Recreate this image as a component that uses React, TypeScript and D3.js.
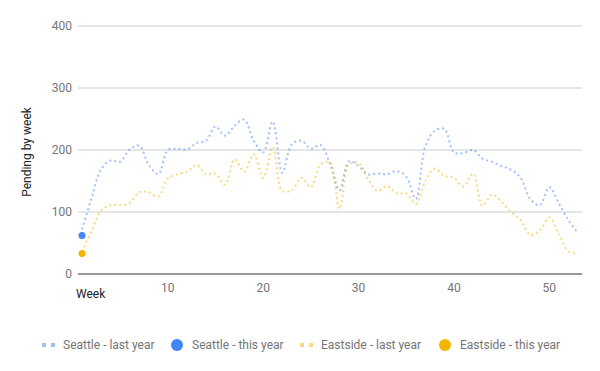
import * as d3 from "d3";
import * as React from "react";

// weekly pending counts
const seattleLastYear = [
  72, 122, 169, 183, 181, 201, 207, 176, 161, 200, 202, 201, 211, 215, 238, 223, 239, 249,
  215, 196, 246, 163, 209, 215, 202, 208, 178, 135, 182, 174, 161, 162, 161, 166, 157, 121,
  206, 231, 234, 196, 195, 200, 186, 181, 174, 168, 155, 121, 111, 140, 114, 87, 66,
];
const eastsideLastYear = [
  36, 69, 102, 111, 111, 115, 132, 132, 125, 154, 161, 165, 176, 161, 162, 144, 185, 165,
  193, 155, 205, 134, 135, 155, 140, 176, 180, 105, 177, 179, 153, 134, 142, 130, 130, 113,
  150, 170, 158, 155, 141, 162, 110, 128, 116, 100, 87, 63, 70, 91, 65, 37, 33,
];
const seattleThisYear = [62];
const eastsideThisYear = [33];

const yTicks = [0, 100, 200, 300, 400];
const xTicks = [10, 20, 30, 40, 50];

const BLUE = "#4285f4";
const ORANGE = "#f4b400";

const legendItems = [
  { label: "Seattle - last year", color: BLUE, kind: "line", x: 42 },
  { label: "Seattle - this year", color: BLUE, kind: "dot", x: 171 },
  { label: "Eastside - last year", color: ORANGE, kind: "line", x: 300 },
  { label: "Eastside - this year", color: ORANGE, kind: "dot", x: 439 },
];

export default function App() {
  React.useEffect(() => {
    document.body.style.margin = "0";
  }, []);

  const width = 600;
  const height = 371;
  const left = 78;
  const right = 582;
  const top = 26;
  const bottom = 274;

  const x = d3.scaleLinear().domain([0.58, 53.43]).range([left, right]);
  const y = d3.scaleLinear().domain([0, 400]).range([bottom, top]);

  const line = d3
    .line<number>()
    .x((d, i) => x(i + 1))
    .y((d) => y(d))
    .curve(d3.curveCatmullRom.alpha(0.5));

  const font = "Roboto, sans-serif";

  return (
    <svg width={width} height={height} style={{ display: "block" }} fontFamily={font}>
      <rect width={width} height={height} fill="#fff" />
      {yTicks.map((t) => (
        <g key={t}>
          {t > 0 && (
            <line x1={left} x2={right} y1={y(t)} y2={y(t)} stroke="#cccccc" strokeWidth={1} />
          )}
          <text x={72} y={y(t)} dy="0.35em" textAnchor="end" fontSize={12} fill="#757575">
            {t}
          </text>
        </g>
      ))}
      {xTicks.map((t) => (
        <text key={t} x={x(t)} y={292} textAnchor="middle" fontSize={12} fill="#757575">
          {t}
        </text>
      ))}
      <text x={76} y={298} fontSize={12} fill="#222">
        Week
      </text>
      <text
        transform={`translate(31,${(top + bottom) / 2 + 2}) rotate(-90)`}
        textAnchor="middle"
        fontSize={12}
        fill="#222"
      >
        Pending by week
      </text>

      <path
        d={line(seattleLastYear) || ""}
        fill="none"
        stroke={BLUE}
        strokeOpacity={0.5}
        strokeWidth={2}
        strokeDasharray="2,3"
      />
      <path
        d={line(eastsideLastYear) || ""}
        fill="none"
        stroke={ORANGE}
        strokeOpacity={0.5}
        strokeWidth={2}
        strokeDasharray="2,3"
      />
      <line x1={left} x2={right} y1={y(0)} y2={y(0)} stroke="#333" strokeWidth={1.2} />
      {seattleThisYear.map((v, i) => (
        <circle key={"s" + i} cx={x(i + 1)} cy={y(v)} r={3.5} fill={BLUE} />
      ))}
      {eastsideThisYear.map((v, i) => (
        <circle key={"e" + i} cx={x(i + 1)} cy={y(v)} r={3.5} fill={ORANGE} />
      ))}

      {legendItems.map((it) => (
        <g key={it.label} transform={`translate(${it.x},345)`}>
          {it.kind === "line" ? (
            <>
              <rect x={0} y={-2} width={4} height={4} fill={it.color} opacity={0.5} />
              <rect x={9} y={-2} width={4} height={4} fill={it.color} opacity={0.5} />
            </>
          ) : (
            <circle cx={6} cy={0} r={6} fill={it.color} />
          )}
          <text x={it.kind === "line" ? 21 : 21} y={0} dy="0.35em" fontSize={12} fill="#757575">
            {it.label}
          </text>
        </g>
      ))}
    </svg>
  );
}
